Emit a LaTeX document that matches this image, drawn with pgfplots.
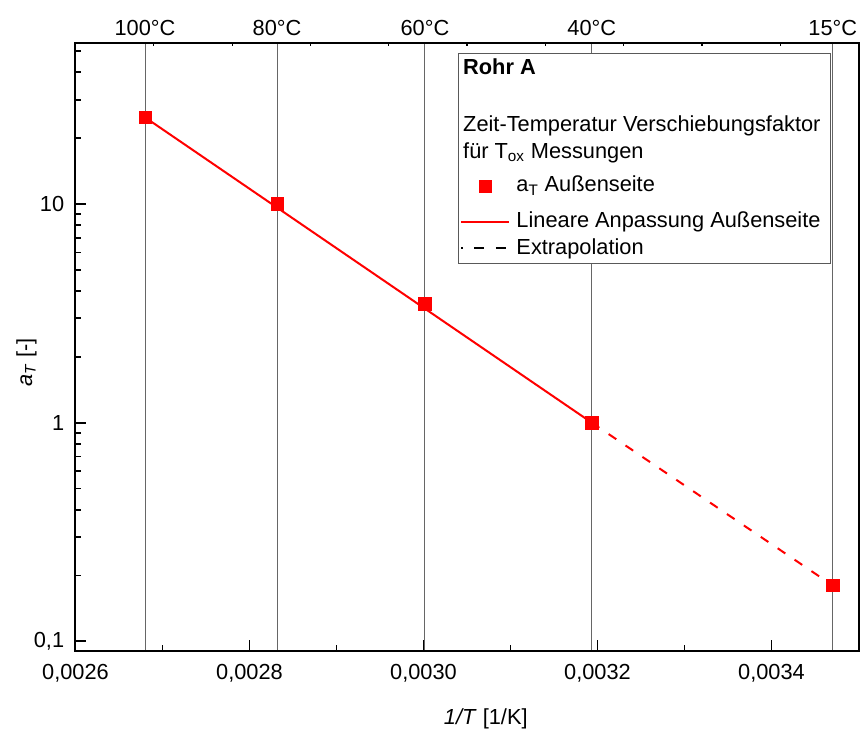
\documentclass[border=0pt]{standalone}
\usepackage{fontspec}
\setmainfont{Liberation Sans}
\usepackage{pgfplots}
\pgfplotsset{compat=1.18}

% strut of a given height above the baseline
\newcommand{\st}[1]{\rule{0pt}{#1}}

\begin{document}
\begin{tikzpicture}[font=\fontsize{15.5}{18.6}\selectfont]

% temperature lines and top labels
\begin{axis}[
  width=195.75mm, height=151.9mm, scale only axis,
  xmin=0.0026, xmax=0.0035,
  ymode=log, ymin=0.0904, ymax=54.3,
  scaled x ticks=false,
  hide y axis, axis line style={draw=none},
  xtick pos=right, xticklabel pos=right, tick align=inside,
  xtick={0.00267989,0.00283166,0.00300165,0.00319336,0.00347041},
  xticklabels={100°C,80°C,60°C,40°C,15°C},
  xticklabel style={yshift=0.75mm},
  xmajorgrids, grid style={black!60, line width=0.25mm},
  major x tick style={draw=none},
  minor xtick={0.00269,0.00278,0.00287,0.00296,0.00305,0.00314,0.00323,0.00332,0.00341},
  minor x tick style={black, line width=0.3mm},
  minor tick length=0.6mm,
]
\addplot[draw=none, forget plot] coordinates {(0.003,1)};
\end{axis}

\begin{axis}[
  width=195.75mm, height=151.9mm, scale only axis,
  xmin=0.0026, xmax=0.0035,
  ymode=log, ymin=0.0904, ymax=54.3,
  scaled x ticks=false,
  axis line style={line width=0.5mm},
  tick align=inside, xtick pos=left, ytick pos=left,
  every tick/.style={black, line width=0.45mm},
  major tick length=2.7mm, minor tick length=1.5mm,
  xtick={0.0026,0.0028,0.0030,0.0032,0.0034},
  xticklabels={{0,0026},{0,0028},{0,0030},{0,0032},{0,0034}},
  minor xtick={0.0027,0.0029,0.0031,0.0033},
  ytick={0.1,1,10}, yticklabels={{0,1},1,10},
  minor ytick={0.2,0.3,0.4,0.5,0.6,0.7,0.8,0.9,2,3,4,5,6,7,8,9,20,30,40,50},
  xticklabel style={yshift=-2mm},
  yticklabel style={xshift=-1.6mm},
  xlabel={\textit{1/T} [1/K]},
  ylabel={\textit{a}\textsubscript{\textit{T}} [-]},
  every axis x label/.style={at={(rel axis cs:0.524,-0.112)}, anchor=center},
  every axis y label/.style={at={(rel axis cs:-0.0626,0.475)}, rotate=90, anchor=center},
  legend style={at={(0.4885,0.984)}, anchor=north west,
    draw=black!65, line width=0.25mm, fill=white,
    inner xsep=0.5mm, inner ysep=0pt, row sep=0pt, column sep=1.5mm,
    nodes={inner sep=0pt}, cells={anchor=base west}},
  legend image code/.code={\draw[mark repeat=2,mark phase=2,#1]
    plot coordinates {(0mm,1.4mm) (6mm,1.4mm) (12mm,1.4mm)};},
]
\addplot[red, line width=0.5mm, forget plot] coordinates {
  (0.00267989,24.9) (0.00319336,1.0)
};
\addplot[red, line width=0.5mm, dash pattern=on 2.3mm off 2.8mm, forget plot] coordinates {
  (0.00319336,1.0) (0.00347041,0.18)
};

\addlegendimage{empty legend}
\addlegendentry{\makebox[0pt][l]{\hspace*{-13.5mm}\st{5.25mm}\textbf{Rohr A}}}
\addlegendimage{empty legend}
\addlegendentry{\makebox[0pt][l]{\hspace*{-13.5mm}\st{13.75mm}Zeit-Temperatur Verschiebungsfaktor}}
\addlegendimage{empty legend}
\addlegendentry{\makebox[0pt][l]{\hspace*{-13.5mm}\st{6.25mm}für T\textsubscript{ox} Messungen}}

\addplot[only marks, mark=square*, mark size=1.55mm, red, mark options={fill=red, draw=red}] coordinates {
  (0.00267989,24.9)
  (0.00283166,10.0)
  (0.00300165,3.49)
  (0.00319336,1.0)
  (0.00347041,0.18)
};
\addlegendentry{\st{7.75mm}a\textsubscript{T} Außenseite}

\addlegendimage{red, line width=0.5mm}
\addlegendentry{\st{8.5mm}Lineare Anpassung Außenseite\hspace*{2mm}}
\addlegendimage{black, line width=0.5mm, dash pattern=on 2.5mm off 2.9mm, dash phase=2.2mm}
\addlegendentry{\st{6mm}Extrapolation}
\addlegendimage{empty legend}
\addlegendentry{\st{1.25mm}}

\coordinate (bl) at (rel axis cs:{-75.5/783},{-80/607.7});
\coordinate (tr) at (rel axis cs:{1+2.5/783},{1+43.3/607.7});
\end{axis}
\pgfresetboundingbox
\path (bl) rectangle (tr);
\end{tikzpicture}
\end{document}
